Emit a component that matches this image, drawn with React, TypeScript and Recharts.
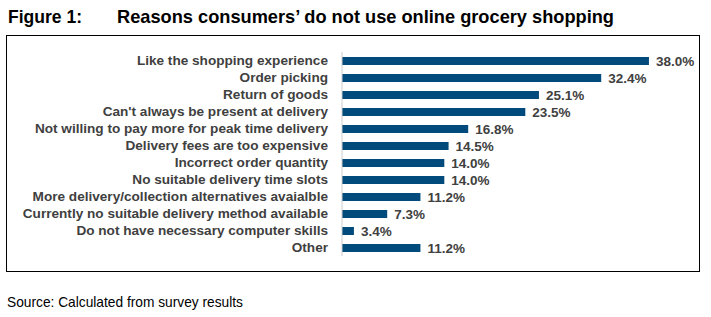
import { BarChart, Bar, XAxis, YAxis, LabelList } from "recharts";

const REASONS = [
  "Like the shopping experience",
  "Order picking",
  "Return of goods",
  "Can't always be present at delivery",
  "Not willing to pay more for peak time delivery",
  "Delivery fees are too expensive",
  "Incorrect order quantity",
  "No suitable delivery time slots",
  "More delivery/collection alternatives avaialble",
  "Currently no suitable delivery method available ",
  "Do not have necessary computer skills",
  "Other",
];

const SHARES = [38.0, 32.4, 25.1, 23.5, 16.8, 14.5, 14.0, 14.0, 11.2, 7.3, 3.4, 11.2];

const data = REASONS.map((reason, i) => ({ reason, share: SHARES[i] }));

const BAR_COLOR = "#004b7b";
const TEXT = "#404040";
const FONT = "'Liberation Sans', Arial, sans-serif";

export default function App() {
  return (
    <div style={{ position: "absolute", left: 0, top: 0, width: 711, height: 317, background: "#fff" }}>
      <div
        style={{
          position: "absolute",
          left: 6,
          top: 35,
          width: 692,
          height: 235,
          border: "1.5px solid #000",
        }}
      />
      <div style={{ position: "absolute", left: 0, top: 0 }}>
        <BarChart
          width={711}
          height={317}
          data={data}
          layout="vertical"
          margin={{ top: 52, right: 45, bottom: 61, left: 0 }}
          barCategoryGap={0}
        >
          <XAxis type="number" domain={[2, 40]} allowDataOverflow hide />
          <YAxis
            type="category"
            dataKey="reason"
            width={342}
            axisLine={{ stroke: "#cccccc" }}
            tickLine={false}
            tickSize={0}
            tickMargin={14}
            interval={0}
            tick={{ fill: TEXT, fontSize: 13.6, fontWeight: "bold", fontFamily: FONT }}
          />
          <Bar dataKey="share" fill={BAR_COLOR} barSize={8} isAnimationActive={false}>
            <LabelList
              dataKey="share"
              position="right"
              offset={7}
              formatter={(v: number) => `${v.toFixed(1)}%`}
              fill={TEXT}
              fontSize={13.5}
              fontWeight="bold"
              fontFamily={FONT}
            />
          </Bar>
        </BarChart>
      </div>
      <svg
        width={711}
        height={317}
        style={{ position: "absolute", left: 0, top: 0, pointerEvents: "none" }}
      >
        <g fontFamily={FONT} fill="#000">
          <text x={8} y={23} fontSize={18.5} fontWeight="bold" textLength={74} lengthAdjust="spacingAndGlyphs">
            Figure 1:
          </text>
          <text x={117} y={23} fontSize={18.5} fontWeight="bold" textLength={497} lengthAdjust="spacingAndGlyphs">
            Reasons consumers’ do not use online grocery shopping
          </text>
          <text x={7} y={307} fontSize={15} textLength={236} lengthAdjust="spacingAndGlyphs">
            Source: Calculated from survey results
          </text>
        </g>
      </svg>
    </div>
  );
}
